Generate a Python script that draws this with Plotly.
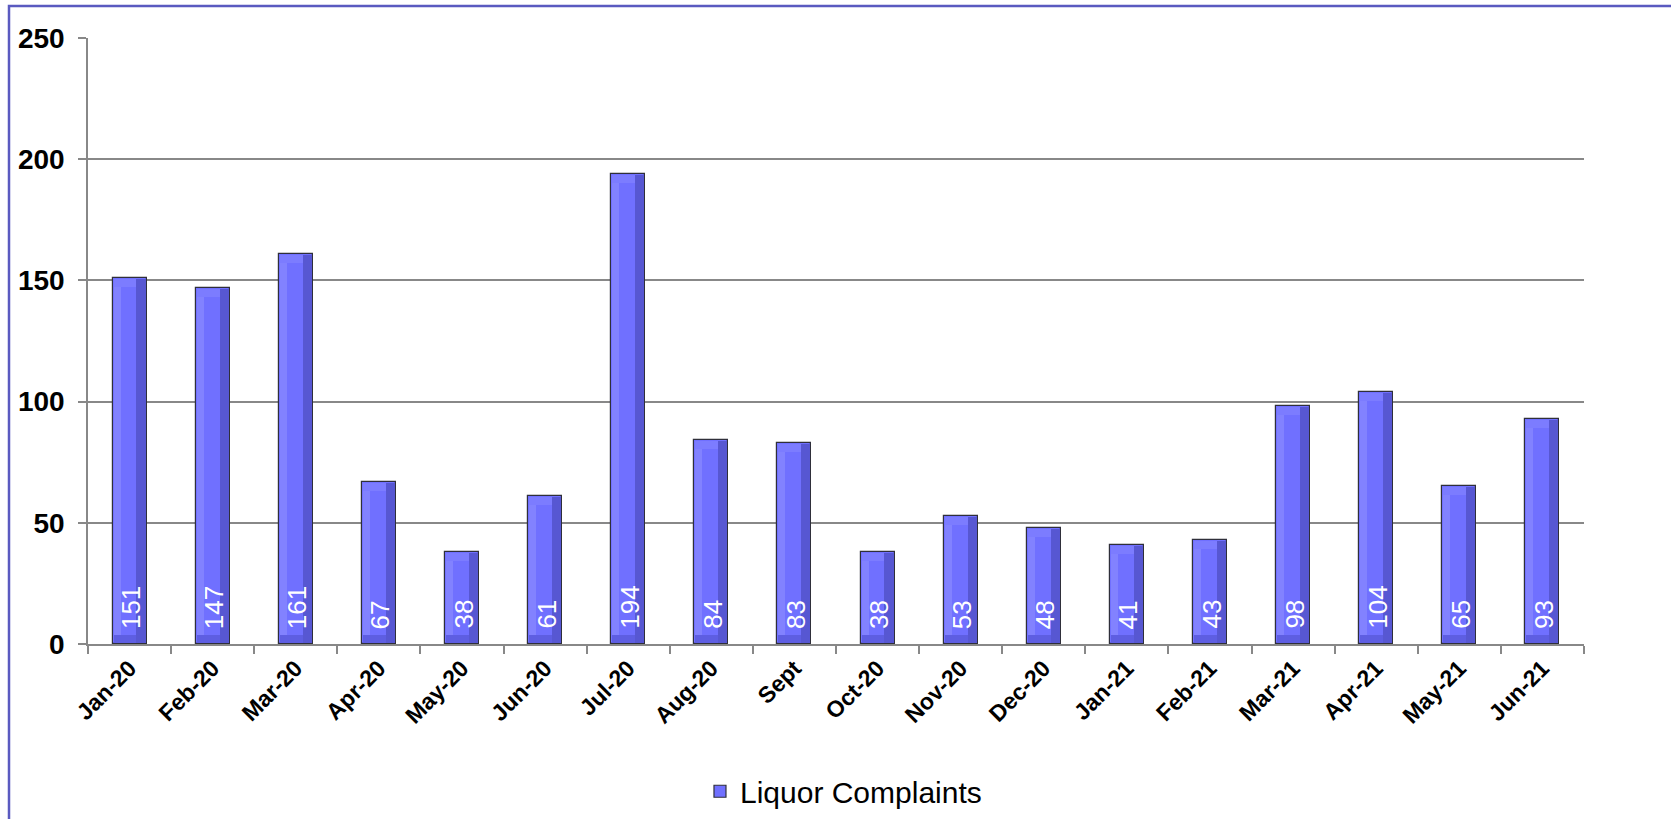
import plotly.graph_objects as go

# Monthly liquor complaint counts
months = ["Jan-20", "Feb-20", "Mar-20", "Apr-20", "May-20", "Jun-20", "Jul-20", "Aug-20",
          "Sept", "Oct-20", "Nov-20", "Dec-20", "Jan-21", "Feb-21", "Mar-21", "Apr-21",
          "May-21", "Jun-21"]
complaints = [151, 147, 161, 67, 38, 61, 194, 84, 83, 38, 53, 48, 41, 43, 98, 104, 65, 93]
y_ticks = [0, 50, 100, 150, 200, 250]

FONT = "Liberation Sans, Arial, Helvetica, sans-serif"
W, H = 1671, 819
ML, MR, MT, MB = 88, 87, 38, 175

BAR_W = 0.41
HALF = BAR_W / 2
EDGE = 0.012
BEVEL = 3.3  # bevel band thickness in data units

fig = go.Figure()

# main body of each bar (carries the legend entry)
fig.add_trace(go.Bar(
    x=months, y=complaints, name="Liquor Complaints",
    width=BAR_W, offset=-HALF,
    marker=dict(color="#7070FF", line=dict(color="#2f2f3a", width=1.2)),
    showlegend=True,
))
# bevel bands: top highlight, bottom shade, left highlight, right shade
fig.add_trace(go.Bar(
    x=months, y=[BEVEL] * len(months), base=[v - BEVEL - 0.4 for v in complaints],
    width=BAR_W - 2 * EDGE, offset=-HALF + EDGE,
    marker=dict(color="#7C7CFF", line=dict(width=0)), showlegend=False,
))
fig.add_trace(go.Bar(
    x=months, y=[BEVEL] * len(months), base=[0.4] * len(months),
    width=BAR_W - 2 * EDGE, offset=-HALF + EDGE,
    marker=dict(color="#5E5EE2", line=dict(width=0)), showlegend=False,
))
fig.add_trace(go.Bar(
    x=months, y=[v - 2 * BEVEL - 0.8 for v in complaints], base=[BEVEL + 0.4] * len(months),
    width=0.085, offset=-HALF + EDGE,
    marker=dict(color="#8282FF", line=dict(width=0)), showlegend=False,
))
fig.add_trace(go.Bar(
    x=months, y=[v - 0.8 for v in complaints], base=[0.4] * len(months),
    width=0.11, offset=HALF - EDGE - 0.11,
    marker=dict(color="#5757D2", line=dict(width=0)), showlegend=False,
))

# value labels, rotated, sitting at the base of each bar
for m, v in zip(months, complaints):
    fig.add_annotation(
        x=m, y=0, text=str(v), textangle=-90, showarrow=False,
        yanchor="bottom", xanchor="center", yshift=13, xshift=1,
        font=dict(family=FONT, size=26, color="white"),
    )

# outer frame
fig.add_shape(
    type="rect", xref="paper", yref="paper",
    x0=(9 - ML) / (W - ML - MR), x1=1.2,
    y0=-0.5, y1=1 + (MT - 6) / (H - MT - MB),
    line=dict(color="#5A5AC0", width=2.5), fillcolor="rgba(0,0,0,0)", layer="below",
)

fig.update_layout(
    width=W, height=H,
    margin=dict(l=ML, r=MR, t=MT, b=MB, autoexpand=False),
    paper_bgcolor="white", plot_bgcolor="white",
    barmode="overlay", bargap=0,
    showlegend=True,
    legend=dict(
        orientation="h", x=0.505, xanchor="center", y=-0.243, yanchor="middle",
        font=dict(family=FONT, size=30, color="black"),
        bgcolor="rgba(0,0,0,0)",
    ),
    xaxis=dict(
        type="category", tickson="boundaries", ticks="outside", ticklen=8,
        tickcolor="#888888", tickwidth=1.5, tickangle=-45, automargin=False,
        showline=True, linecolor="#888888", linewidth=1.5, showgrid=False,
        tickfont=dict(family=FONT, size=23, color="black", weight="bold"),
        range=[-0.5, len(months) - 0.5],
    ),
    yaxis=dict(
        range=[0, 250], tickvals=y_ticks, ticks="outside", ticklen=8,
        tickcolor="#888888", tickwidth=1.5, ticklabelstandoff=8, automargin=False,
        showline=True, linecolor="#888888", linewidth=1.5,
        showgrid=True, gridcolor="#888888", gridwidth=1.5, zeroline=False,
        tickfont=dict(family=FONT, size=28, color="black", weight="bold"),
    ),
)

fig.write_html("out.html")
